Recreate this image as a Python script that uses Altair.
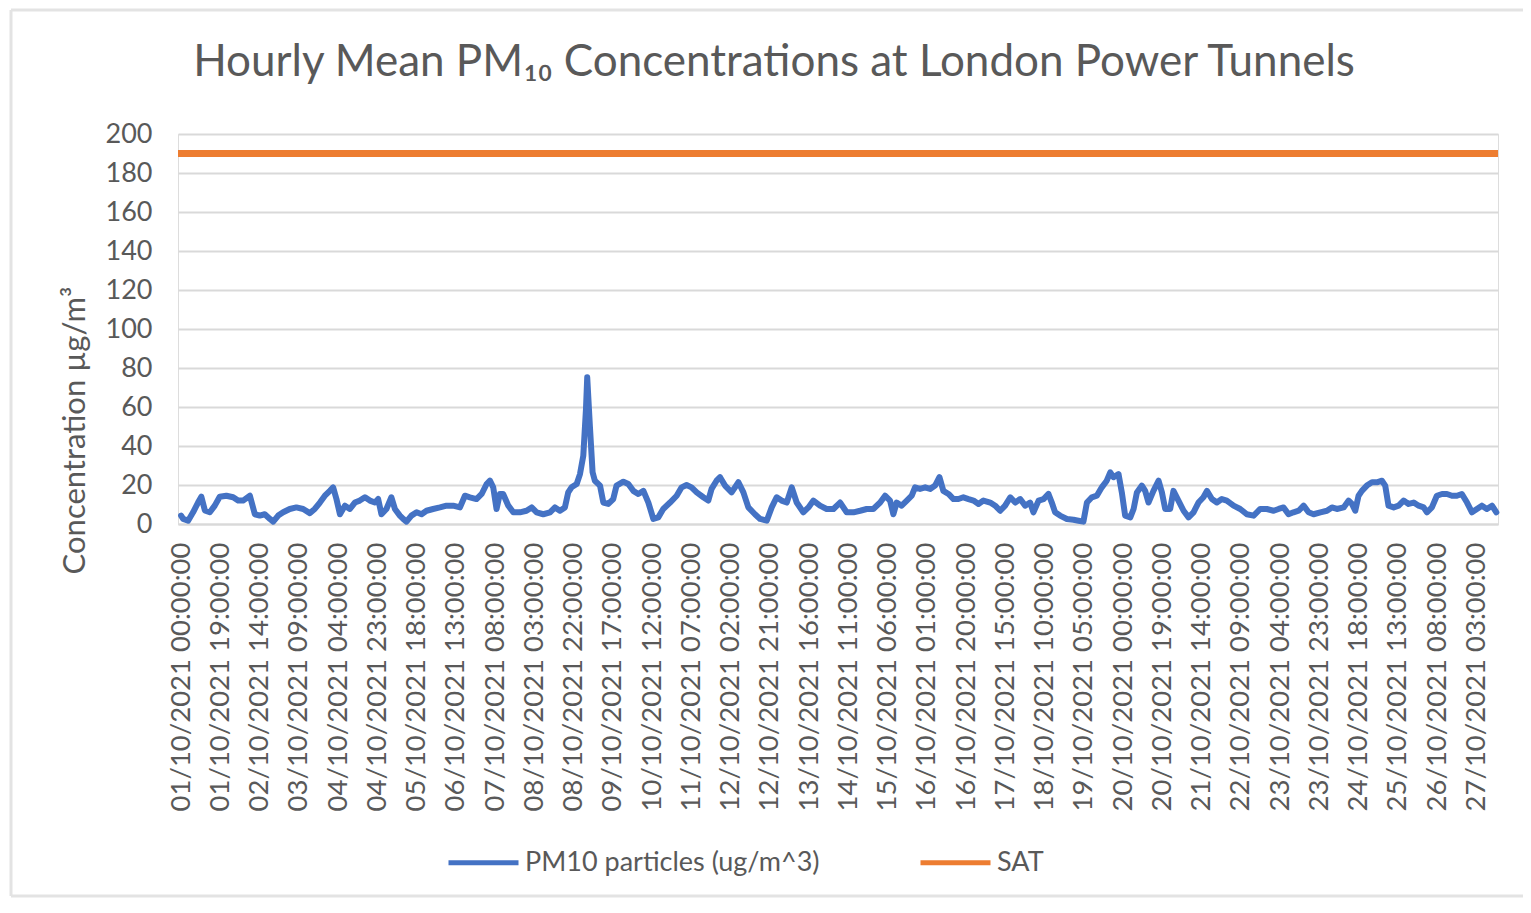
import altair as alt
import pandas as pd

# Hours since 01/10/2021 00:00 and hourly mean PM10 (ug/m^3)
hours = [0, 1.0, 3.4, 5.8, 8.2, 9.8, 11.5, 13.9, 16.3, 18.7, 21.9, 25.2, 27.6, 30.0, 33.3, 35.7,
         38.1, 40.5, 43.0, 44.6, 47.0, 49.4, 52.6, 55.8, 59.1, 62.3, 64.7, 67.2, 69.6, 72.0, 73.6,
         75.2, 76.9, 79.3, 81.7, 84.1, 86.5, 89.0, 91.4, 93.8, 95.4, 97.0, 99.4, 101.8, 103.5,
         105.9, 107.5, 109.1, 111.5, 114.0, 116.4, 118.8, 122.0, 125.3, 128.5, 131.7, 135.0,
         137.4, 139.8, 143.0, 145.5, 147.9, 149.5, 151.1, 152.7, 154.3, 155.9, 158.4, 160.8,
         164.0, 167.2, 169.7, 172.1, 175.3, 178.6, 181.0, 183.4, 185.8, 187.4, 189.0, 191.5,
         193.1, 194.7, 196.0, 196.6, 197.9, 199.2, 200.3, 202.8, 204.4, 206.8, 209.2, 210.8,
         214.1, 216.5, 218.9, 221.3, 223.8, 226.2, 228.6, 231.0, 233.4, 236.7, 239.9, 242.3,
         244.7, 247.1, 249.6, 252.8, 255.2, 256.8, 259.2, 260.9, 263.3, 266.5, 269.8, 272.2,
         274.6, 277.8, 280.3, 283.5, 285.9, 288.3, 290.7, 293.2, 295.6, 298.0, 301.2, 303.7,
         306.1, 309.3, 312.5, 315.8, 319.0, 322.2, 325.5, 328.7, 331.9, 335.1, 338.4, 340.8,
         343.2, 344.8, 346.4, 348.8, 351.3, 353.7, 355.3, 357.7, 360.2, 362.6, 365.0, 367.1,
         369.0, 371.5, 373.9, 376.3, 378.7, 381.2, 383.6, 386.0, 388.4, 391.7, 394.1, 396.5,
         398.9, 401.4, 403.8, 406.2, 408.6, 411.0, 412.6, 415.1, 417.5, 419.9, 421.5, 423.1,
         425.5, 428.8, 432.0, 434.4, 436.8, 438.5, 440.9, 443.3, 445.7, 448.1, 449.8, 451.4,
         453.8, 455.4, 457.0, 459.5, 461.1, 462.7, 465.1, 466.7, 468.3, 470.7, 473.2, 474.8,
         476.4, 478.8, 480.4, 482.8, 485.3, 487.7, 490.1, 492.5, 494.9, 496.6, 499.0, 501.4,
         503.8, 506.2, 509.5, 512.7, 515.9, 519.2, 522.4, 525.6, 528.9, 531.3, 533.7, 536.1,
         538.5, 541.0, 543.4, 545.8, 548.2, 551.5, 554.7, 557.1, 559.5, 562.8, 565.2, 566.8,
         568.4, 570.0, 571.6, 574.0, 576.5, 578.9, 581.3, 582.9, 584.5, 587.0, 589.4, 591.8,
         594.2, 596.7, 599.1, 601.5, 603.1, 605.5, 607.9, 610.4, 612.8, 615.2, 617.6, 620.0,
         622.5, 624.9, 627.3, 629.7, 632.1, 634.6, 636.7]

pm10 = [4.3, 2.6, 1.7, 6, 11, 14, 7, 6, 9.4, 14, 14.5, 13.7, 12, 12, 14.5, 5,
        4.3, 5, 2.6, 1.2, 4.3, 6, 7.7, 8.5, 7.7, 5.6, 7.7, 11, 14.5, 17, 18.8,
        12.8, 5, 9.4, 7.7, 11, 12, 13.7, 12, 11, 12.8, 5, 7.7, 13.7, 7.7,
        4.3, 2.6, 1.2, 4.3, 6, 5, 6.8, 7.7, 8.5, 9.4, 9.4, 8.5,
        14.5, 13.7, 12.8, 15.4, 20.5, 22.2, 18.8, 7.7, 15.4, 15.4, 9.4, 6,
        6, 6.8, 8.5, 6, 5, 6, 8.5, 6.8, 8.5, 16.2, 18.8, 20.5,
        25.6, 35, 59, 75.2, 50, 26.5, 22.2, 19.7, 11, 10.3, 12.8, 19.7,
        21.7, 20.5, 17, 15.4, 17, 11, 2.6, 3.4, 7.7, 11, 14.5, 18.8,
        20, 18.8, 16.2, 13.7, 12, 18, 22.2, 24, 19.7, 16.2, 21.4, 16.2,
        8.5, 5, 2.6, 1.7, 8.5, 13.7, 12, 11, 18.8, 11, 6, 8.5,
        12, 9.4, 7.7, 7.7, 11, 6, 6, 6.8, 7.7, 7.7, 11, 14.5,
        12, 5, 11, 9.4, 12, 14.5, 18.8, 18, 18.8, 18, 19.7, 24,
        17, 15.4, 12.8, 12.8, 13.7, 12.8, 12, 10.3, 12, 11, 9.4, 6.8,
        9.4, 13.7, 11, 12.8, 9.4, 11, 6, 12, 12.8, 15.4, 11, 6,
        4.3, 2.6, 2.2, 1.7, 1.2, 11, 13.7, 14.5, 18.8, 22.2, 26.5, 24,
        25.6, 16.2, 4.3, 3.4, 7.7, 16.2, 19.7, 17, 11, 17, 22.2, 16.2,
        7.7, 7.7, 17, 12, 6.8, 3.4, 6, 11, 13.7, 17, 12.8, 11,
        12.8, 12, 9.4, 7.7, 5, 4.3, 7.7, 7.7, 6.8, 7.7, 8.5, 5,
        6, 6.8, 9.4, 6, 5, 6, 6.8, 8.5, 7.7, 8.5, 12, 10.3,
        6.8, 14.5, 17, 19.7, 21.4, 21.4, 22.2, 19.7, 9.4, 8.5, 9.4, 12,
        10.3, 11, 9.4, 8.5, 6, 8.5, 14.5, 15.4, 15.4, 14.5, 14.5, 15.4,
        11, 6, 7.7, 9.4, 7.7, 9.4, 6]

sat_value = 190

tick_hours = [0, 19, 38, 57, 76, 95, 114, 133, 152, 171, 190, 209, 228, 247, 266, 285, 304,
              323, 342, 361, 380, 399, 418, 437, 456, 475, 494, 513, 532, 551, 570, 589,
              608, 627]
tick_labels = ["01/10/2021 00:00:00", "01/10/2021 19:00:00", "02/10/2021 14:00:00",
               "03/10/2021 09:00:00", "04/10/2021 04:00:00", "04/10/2021 23:00:00",
               "05/10/2021 18:00:00", "06/10/2021 13:00:00", "07/10/2021 08:00:00",
               "08/10/2021 03:00:00", "08/10/2021 22:00:00", "09/10/2021 17:00:00",
               "10/10/2021 12:00:00", "11/10/2021 07:00:00", "12/10/2021 02:00:00",
               "12/10/2021 21:00:00", "13/10/2021 16:00:00", "14/10/2021 11:00:00",
               "15/10/2021 06:00:00", "16/10/2021 01:00:00", "16/10/2021 20:00:00",
               "17/10/2021 15:00:00", "18/10/2021 10:00:00", "19/10/2021 05:00:00",
               "20/10/2021 00:00:00", "20/10/2021 19:00:00", "21/10/2021 14:00:00",
               "22/10/2021 09:00:00", "23/10/2021 04:00:00", "23/10/2021 23:00:00",
               "24/10/2021 18:00:00", "25/10/2021 13:00:00", "26/10/2021 08:00:00",
               "27/10/2021 03:00:00"]
y_ticks = [0, 20, 40, 60, 80, 100, 120, 140, 160, 180, 200]

series_names = ["PM10 particles (ug/m^3)", "SAT"]
series_colors = ["#4472C4", "#ED7D31"]

FONT = "Lato"
GREY = "#595959"
BORDER = "#e3e3e3"

pm_df = pd.DataFrame({"hour": hours, "value": pm10, "series": series_names[0]})
sat_df = pd.DataFrame({"value": [sat_value], "series": [series_names[1]]})

label_array = "[" + ",".join("'" + s + "'" for s in tick_labels) + "]"
label_expr = label_array + "[indexof(" + "[" + ",".join(str(h) for h in tick_hours) + "], datum.value)]"

color = alt.Color(
    "series:N",
    scale=alt.Scale(domain=series_names, range=series_colors),
    legend=alt.Legend(
        title=None, orient="none", legendX=268, legendY=691, direction="horizontal",
        symbolType="stroke", symbolSize=4900, symbolStrokeWidth=5,
        labelFontSize=27, labelFont=FONT, labelColor=GREY, labelOffset=4,
        labelLimit=600, columnPadding=90, padding=0,
    ),
)

x_axis = alt.Axis(
    values=tick_hours, labelExpr=label_expr, labelAngle=270, labelFontSize=27.5,
    labelFont=FONT, labelColor=GREY, labelPadding=18, labelLimit=600, ticks=False,
    grid=False, domain=True, domainColor="#d9d9d9", domainWidth=2, title=None,
    labelOverlap=False, labelBound=False, labelFlush=False,
)
y_axis = alt.Axis(
    values=y_ticks, labelFontSize=27, labelFont=FONT, labelColor=GREY,
    labelPadding=26, labelOverlap=False, ticks=False, domain=False,
    gridColor="#d9d9d9", gridWidth=2,
    title="Concentration µg/m³", titleFont=FONT, titleFontSize=31, titleColor=GREY,
    titleFontWeight="normal", titleX=-103, titleY=296, titleAngle=270,
    titleAlign="center", titleBaseline="middle",
)

x_scale = alt.Scale(domain=[-1.5, 637.5], nice=False, zero=False)
y_scale = alt.Scale(domain=[0, 200], nice=False)

line = alt.Chart(pm_df).mark_line(strokeWidth=6, strokeJoin="round", strokeCap="round").encode(
    x=alt.X("hour:Q", scale=x_scale, axis=x_axis),
    y=alt.Y("value:Q", scale=y_scale, axis=y_axis),
    color=color,
)

sat = alt.Chart(sat_df).mark_rule(strokeWidth=7).encode(
    y=alt.Y("value:Q", scale=y_scale, axis=y_axis),
    color=color,
)

one = alt.Data(values=[{"a": 1}])
border_top = alt.Chart(one).mark_rule(stroke=BORDER, strokeWidth=3).encode(
    x=alt.value(-167), x2=alt.value(1380), y=alt.value(-124)
)
border_left = alt.Chart(one).mark_rule(stroke=BORDER, strokeWidth=3).encode(
    x=alt.value(-167), y=alt.value(-124), y2=alt.value(762)
)
border_bottom = alt.Chart(one).mark_rule(stroke=BORDER, strokeWidth=3).encode(
    x=alt.value(-167), x2=alt.value(1380), y=alt.value(762)
)

chart = alt.layer(border_top, border_left, border_bottom, sat, line).properties(
    width=1320, height=390,
    autosize=alt.AutoSizeParams(type="none"),
    padding={"left": 170, "top": 126, "right": 25, "bottom": 374},
    title=alt.TitleParams(
        "Hourly Mean PM₁₀ Concentrations at London Power Tunnels",
        font=FONT, fontSize=44, fontWeight="normal", color=GREY,
        anchor="middle", frame="group", dx=-64, offset=-111, baseline="alphabetic",
    ),
).configure_view(strokeWidth=0).configure(background="white")

chart.save("out.html", embed_options={"renderer": "svg", "actions": False})
